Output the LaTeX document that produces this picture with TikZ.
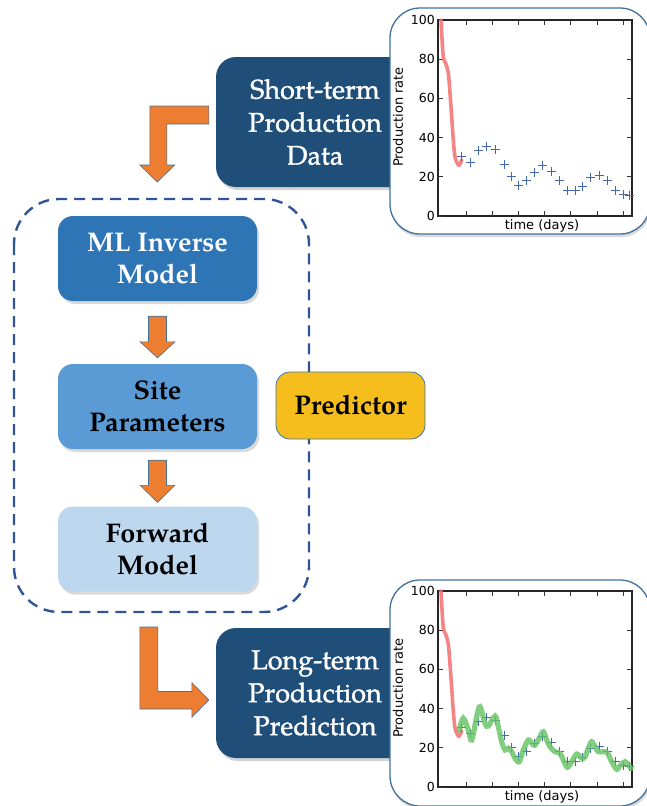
\documentclass[tikz,border=0pt]{standalone}
\usepackage{fontspec}
\setmainfont{TeX Gyre Pagella}
\newfontfamily\medfont[FakeBold=1.3]{TeX Gyre Pagella}
\newfontfamily\plotfont{DejaVu Sans}
\usetikzlibrary{shadows,calc}
\definecolor{darkbox}{HTML}{1F4E79}
\definecolor{mlblue}{HTML}{2E75B6}
\definecolor{siteblue}{HTML}{5B9BD5}
\definecolor{fwdblue}{HTML}{BDD7EE}
\definecolor{predyel}{HTML}{F6BE1C}
\definecolor{arrorange}{HTML}{ED7D31}
\definecolor{edgeblue}{HTML}{41719C}
\definecolor{dashblue}{HTML}{2F5597}
\definecolor{redc}{HTML}{F47070}
\definecolor{greenc}{HTML}{62C262}
\definecolor{crossc}{HTML}{4468B0}
\tikzset{
  boxtext/.style={font=\fontsize{27}{33}\selectfont, align=center, inner sep=0pt},
  darkst/.style={boxtext, font=\medfont\fontsize{27}{33}\selectfont, fill=darkbox, text=white, rounded corners=20pt,
     minimum width=198pt, minimum height=130pt,
     drop shadow={shadow xshift=2pt, shadow yshift=-3pt, opacity=0.35}},
  colbox/.style={boxtext, font=\fontsize{27}{32.5}\selectfont\bfseries, rounded corners=15pt,
     minimum width=199pt, minimum height=85pt,
     drop shadow={shadow xshift=2pt, shadow yshift=-3pt, opacity=0.3}},
  plotbox/.style={draw=edgeblue, line width=1.3pt, fill=white, rounded corners=30pt,
     drop shadow={shadow xshift=1pt, shadow yshift=-3pt, opacity=0.3}},
  blockarrow/.style={fill=arrorange, draw=edgeblue, line width=0.6pt, line join=miter},
  plotframe/.style={draw=black!85, line width=1.1pt},
  tickst/.style={draw=black!80, line width=0.8pt},
  ticklab/.style={font=\plotfont\fontsize{12.5}{13}\selectfont, anchor=east, inner sep=0pt},
  axlab/.style={font=\plotfont\fontsize{13}{14}\selectfont, inner sep=0pt},
  redcurve/.style={draw=redc, line width=3.6pt, opacity=0.85, line cap=round},
  greencurve/.style={draw=greenc, line width=5.2pt, opacity=0.8, line cap=round},
  crossst/.style={draw=crossc, line width=1pt},
}
\newcommand{\prodplot}{%
  \draw[plotframe] (438,20) rectangle (632,216);
  \foreach \yy/\lab in {216/0,176.8/20,137.6/40,98.4/60,59.2/80,20/100}{
    \draw[tickst] (438,\yy) -- (443,\yy) (632,\yy) -- (627,\yy);
    \node[ticklab] (tick\lab) at (435,\yy) {\lab};}
  \foreach \xx in {466,492.2,518.4,544.6,570.8,597,623.2}{
    \draw[tickst] (\xx,20) -- (\xx,25) (\xx,216) -- (\xx,211);}
  \node[axlab] (tl) at (542,226) {time (days)};
  \node[axlab, rotate=90] (pl) at (398,117) {Production rate};
  \draw[redcurve] plot[smooth, tension=0.6] coordinates {(441,20) (441.7,33) (443.3,56.7) (445.7,63.3) (448.3,73.3) (450,93.3) (451.7,116.7) (453.3,140) (455,156.7) (457.3,163.3) (459.3,165) (461.7,160)};
  \foreach \a/\b in {461.7/156.7, 470.7/162.3, 478.3/150, 486.7/146.7, 495.7/149, 504/164.3, 511/176.7, 518.3/185, 526/180, 534/172.7, 542.7/165, 551/171.7, 559.3/180, 567.3/190.7, 575/190.7, 582.7/186.7, 590.7/177.7, 599/175.7, 607/180.7, 615/190.7, 623.3/194, 629.3/195}
    \draw[crossst] (\a,\b) +(-4.5,0) -- +(4.5,0) +(0,-4.5) -- +(0,4.5);
}
\begin{document}
\begin{tikzpicture}[x=1pt, y=-1pt]
\useasboundingbox (0,0) rectangle (646,806);
% dark boxes
\node[darkst] (short) at (315,122) {Short-term\\Production\\Data};
\node[darkst] (long) at (315,693) {Long-term\\Production\\Prediction};
% plot boxes
\draw[plotbox] (390,8) rectangle (650,234);
\draw[plotbox] (390,580) rectangle (650,806);
\begin{scope}[name prefix=top-]
\prodplot
\end{scope}
\begin{scope}[shift={(0,571)}, name prefix=bot-]
\prodplot
\draw[greencurve] plot[smooth, tension=0.55] coordinates {(459.3,159) (463.3,147.3) (468.3,159) (471.7,169) (476.7,145.7) (480,135.7) (485,152.3) (488.3,155) (495,145) (498.3,155.7) (501.7,170.7) (505,179) (508.3,177.3) (511.7,180.7) (515,187.3) (519.3,190.7) (523.3,179) (528.3,169) (531.7,172.3) (535,174) (540,165.7) (543.3,160.7) (546.7,169) (550,175.7) (555,180.7) (560,182.3) (563.3,189) (567.3,196.3) (571.7,190.7) (576.7,183) (581.7,187.3) (585,185.7) (588.3,177.3) (591.7,170.7) (595,175.7) (598.3,180.7) (603.3,180.7) (607.3,181.7) (611.7,190.7) (616.7,198.3) (620.7,194) (625,190.7) (628.3,194) (631,197.3)};
\end{scope}
% dashed predictor region
\draw[draw=dashblue, line width=2.4pt, dash pattern=on 11pt off 7pt, rounded corners=45pt] (14,199) rectangle (309,612);
% inner boxes
\node[colbox, fill=mlblue, text=white] (ml) at (157.5,258.5) {ML Inverse\\Model};
\node[colbox, fill=siteblue, text=black] (site) at (157.5,406.5) {Site\\Parameters};
\node[colbox, fill=fwdblue, text=black] (fwd) at (157.5,549) {Forward\\Model};
\node[boxtext, font=\fontsize{27}{33}\selectfont\bfseries, fill=predyel, draw=edgeblue, line width=0.8pt,
  rounded corners=14pt, minimum width=149pt, minimum height=67pt] (pred) at (350.5,405.5) {Predictor};
% straight block arrows
\fill[blockarrow] let \p1=($(ml.south)+(0,15)$), \p2=($(site.north)+(0,-6)$) in
  (\x1-9pt,\y1) -- (\x1+9pt,\y1) -- (\x1+9pt,\y2+16pt) -- (\x1+17.5pt,\y2+16pt) -- (\x1,\y2)
  -- (\x1-17.5pt,\y2+16pt) -- (\x1-9pt,\y2+16pt) -- cycle;
\fill[blockarrow] let \p1=($(site.south)+(0,11)$), \p2=($(fwd.north)+(0,-4)$) in
  (\x1-9pt,\y1) -- (\x1+9pt,\y1) -- (\x1+9pt,\y2+17pt) -- (\x1+17.5pt,\y2+17pt) -- (\x1,\y2)
  -- (\x1-17.5pt,\y2+17pt) -- (\x1-9pt,\y2+17pt) -- cycle;
% bent block arrow from short-term data
\coordinate (a1) at ($(short.west)+(-7,-7)$);
\fill[blockarrow] let \p1=(a1) in
  (\x1,\y1+9pt) -- (\x1,\y1-9pt) -- (\x1-42pt,\y1-9pt) -- (\x1-42pt,\y1-50pt) -- (\x1-34pt,\y1-50pt)
  -- (\x1-51.5pt,\y1-67pt) -- (\x1-69pt,\y1-50pt) -- (\x1-59pt,\y1-50pt) -- (\x1-59pt,\y1+9pt) -- cycle;
% bent block arrow to long-term prediction
\coordinate (a2) at ($(long.west)+(-7,7)$);
\fill[blockarrow] let \p1=(a2) in
  (\x1,\y1) -- (\x1-17pt,\y1+17.5pt) -- (\x1-17pt,\y1+8.5pt) -- (\x1-51pt,\y1+8.5pt) -- (\x1-51pt,\y1+73pt)
  -- (\x1-69pt,\y1+73pt) -- (\x1-69pt,\y1-9pt) -- (\x1-17pt,\y1-9pt) -- (\x1-17pt,\y1-17.5pt) -- cycle;
\end{tikzpicture}
\end{document}
